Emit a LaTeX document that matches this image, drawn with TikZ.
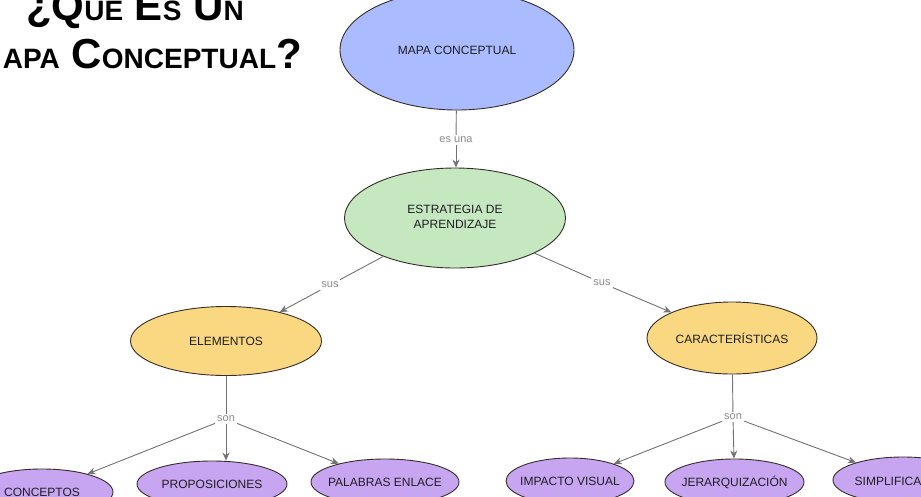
\documentclass[tikz,border=0pt]{standalone}
\usepackage{fontspec}
\setmainfont{Liberation Sans}
\usetikzlibrary{shapes.geometric,arrows.meta}
\definecolor{cblue}{RGB}{170,187,255}
\definecolor{cgreen}{RGB}{198,232,192}
\definecolor{cyellow}{RGB}{250,216,130}
\definecolor{cpurple}{RGB}{200,165,240}
\definecolor{cedge}{RGB}{55,45,40}
\definecolor{clink}{RGB}{115,115,115}
\definecolor{clabel}{RGB}{140,140,140}
\definecolor{ctext}{RGB}{30,30,35}
\newcommand\tbig[1]{{\fontsize{42}{42}\selectfont #1}}
\newcommand\tsml[1]{{\fontsize{28}{28}\selectfont #1}}
\newcommand\zb[1]{\makebox[0pt]{#1}}
\begin{document}
\begin{tikzpicture}[x=1pt,y=-1pt,
  concept/.style={ellipse,draw=cedge,line width=0.9pt,inner sep=0pt,
    font=\fontsize{12}{15}\selectfont,text=ctext,align=center},
  bottomc/.style={concept,fill=cpurple,minimum height=46pt},
  linklabel/.style={font=\fontsize{11}{11}\selectfont,text=clabel,inner sep=2pt},
  link/.style={draw=clink,line width=0.9pt},
  arr/.style={link,-{Stealth[length=8pt,width=7pt]}}]
\useasboundingbox (0,0) rectangle (921,496);
\clip (0,0) rectangle (921,496);
\fill[white] (0,0) rectangle (921,496);

% title
\node[anchor=base east,font=\bfseries,inner sep=0pt] (t1) at (244,20)
  {\tbig{¿Q}\tsml{UE}\tbig{\ E}\tsml{S}\tbig{\ U}\tsml{N}};
\node[anchor=base east,font=\bfseries,inner sep=0pt] (t2) at (302,68)
  {\tbig{M}\tsml{APA}\tbig{\ C}\tsml{ONCEPTUAL}\tbig{?}};

% concepts
\node[concept,fill=cblue,minimum width=234pt,minimum height=120pt] (mapa) at (457,50) {\zb{MAPA CONCEPTUAL}};
\node[concept,fill=cgreen,minimum width=221pt,minimum height=100pt] (estr) at (455,218)
  {\zb{\begin{tabular}{@{}c@{}}ESTRATEGIA DE\\APRENDIZAJE\end{tabular}}};
\node[concept,fill=cyellow,minimum width=191pt,minimum height=69pt] (elem) at (226,341) {\zb{ELEMENTOS}};
\node[concept,fill=cyellow,minimum width=170pt,minimum height=72pt] (cara) at (732,338) {\zb{CARACTERÍSTICAS}};

\node[bottomc,minimum width=142pt] (conc) at (42,492) {\zb{CONCEPTOS}};
\node[bottomc,minimum width=150pt] (prop) at (212,484) {\zb{PROPOSICIONES}};
\node[bottomc,minimum width=148pt] (pala) at (385,482) {\zb{PALABRAS ENLACE}};
\node[bottomc,minimum width=128pt] (impa) at (570,481) {\zb{IMPACTO VISUAL}};
\node[bottomc,minimum width=139pt] (jera) at (734.5,482) {\zb{JERARQUIZACIÓN}};
\node[bottomc,minimum width=140pt] (simp) at (903,480) {\zb{SIMPLIFICACIÓN}};

% link labels
\node[linklabel] (l0) at (456,140) {es una};
\node[linklabel] (l1) at (330,285) {sus};
\node[linklabel] (l2) at (602,283) {sus};
\node[linklabel] (l3) at (226,419) {son};
\node[linklabel] (l4) at (733,417) {son};

% connectors
\draw[link] (mapa) -- (l0);
\draw[arr] (l0) -- (l0 |- estr.north);
\draw[link] (estr) -- (l1);
\draw[arr] (l1) -- (elem);
\draw[link] (estr) -- (l2);
\draw[arr] (l2) -- (cara);
\draw[link] (elem) -- (l3);
\draw[arr] (l3) -- (conc);
\draw[arr] (l3) -- (l3 |- prop.north);
\draw[arr] (l3) -- (pala);
\draw[link] (cara) -- (l4);
\draw[arr] (l4) -- (impa);
\draw[arr] (l4) -- (jera);
\draw[arr] (l4) -- (simp);
\end{tikzpicture}
\end{document}
